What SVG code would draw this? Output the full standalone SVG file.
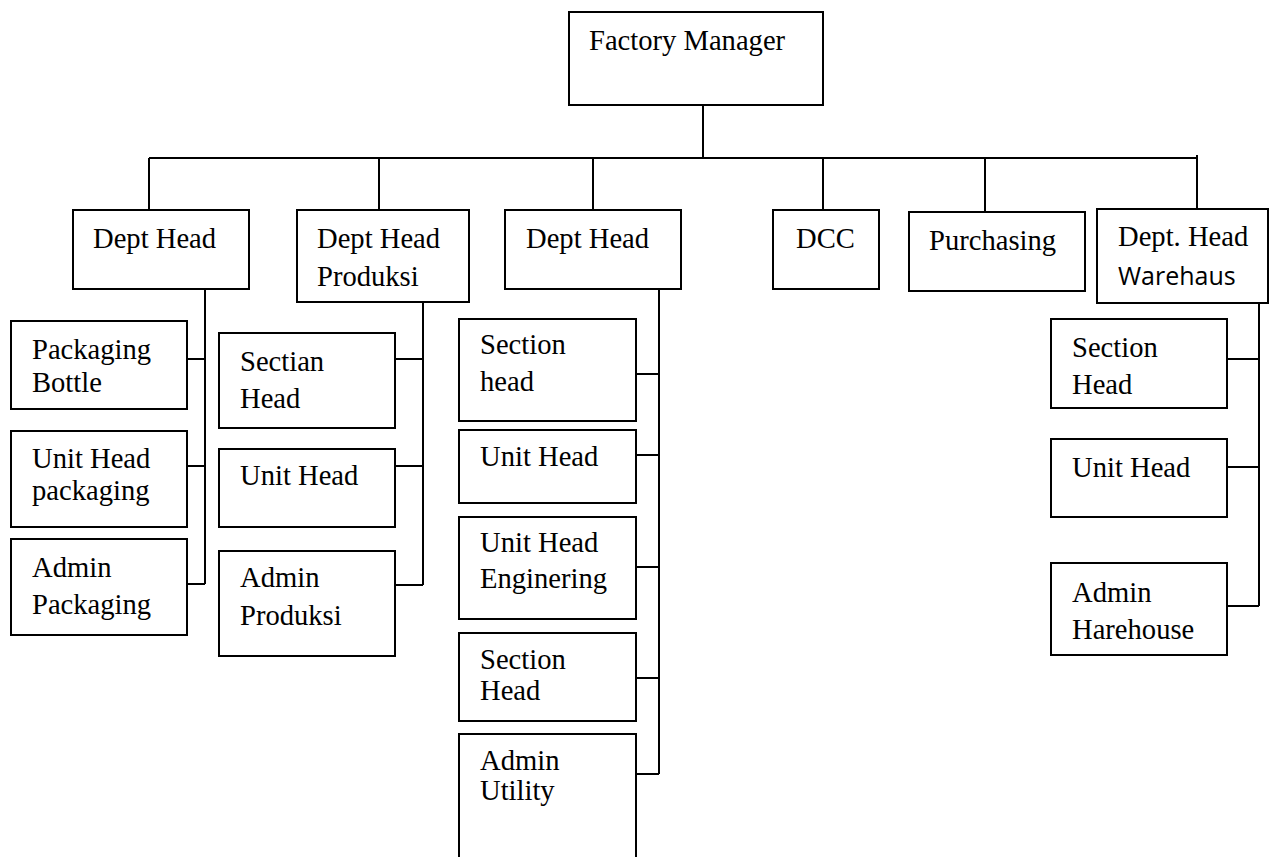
<svg xmlns="http://www.w3.org/2000/svg" width="1271" height="857" viewBox="0 0 1271 857">
<style>
rect{fill:#fff;stroke:#000;stroke-width:2}
text{font-family:"Liberation Serif","Times New Roman",serif;font-size:28.6px;fill:#000}
.sans{font-family:"Open Sans","Liberation Sans",sans-serif;font-size:25px}
#connectors path{fill:none;stroke:#000;stroke-width:2}
</style>
<rect x="0" y="0" width="1271" height="857" style="fill:#fff;stroke:none"/>
<g id="connectors">
<path d="M703 105V158M149 158H1197M1197 155V209M149 158V210M379 158V210M593 158V210M823 158V210M985 158V212"/>
<path d="M205 289V584M187 359H205M187 466H205M187 584H205"/>
<path d="M423 302V585M395 359H423M395 466H423M395 585H423"/>
<path d="M659 289V774M636 374H659M636 455H659M636 567H659M636 678H659M636 774H659"/>
<path d="M1259 303V606M1227 359H1259M1227 467H1259M1227 606H1259"/>
</g>
<g id="factory-manager"><rect x="569" y="12" width="254" height="93"/><text x="589" y="50">Factory Manager</text></g>
<g id="dept-head-1"><rect x="73" y="210" width="176" height="79"/><text x="93" y="248">Dept Head</text></g>
<g id="dept-head-produksi"><rect x="297" y="210" width="172" height="92"/><text x="317" y="248">Dept Head</text><text x="317" y="286">Produksi</text></g>
<g id="dept-head-3"><rect x="505" y="210" width="176" height="79"/><text x="526" y="248">Dept Head</text></g>
<g id="dcc"><rect x="773" y="210" width="106" height="79"/><text x="796" y="248">DCC</text></g>
<g id="purchasing"><rect x="909" y="212" width="176" height="79"/><text x="929" y="250">Purchasing</text></g>
<g id="dept-head-warehaus"><rect x="1097" y="209" width="171" height="94"/><text x="1118" y="246">Dept. Head</text><text class="sans" x="1118" y="285">Warehaus</text></g>
<g id="packaging-bottle"><rect x="11" y="321" width="176" height="88"/><text x="32" y="359">Packaging</text><text x="32" y="392">Bottle</text></g>
<g id="unit-head-packaging"><rect x="11" y="431" width="176" height="96"/><text x="32" y="468">Unit Head</text><text x="32" y="500">packaging</text></g>
<g id="admin-packaging"><rect x="11" y="539" width="176" height="96"/><text x="32" y="577">Admin</text><text x="32" y="614">Packaging</text></g>
<g id="sectian-head"><rect x="219" y="333" width="176" height="95"/><text x="240" y="371">Sectian</text><text x="240" y="408">Head</text></g>
<g id="unit-head-produksi"><rect x="219" y="449" width="176" height="78"/><text x="240" y="485">Unit Head</text></g>
<g id="admin-produksi"><rect x="219" y="551" width="176" height="105"/><text x="240" y="587">Admin</text><text x="240" y="625">Produksi</text></g>
<g id="section-head-3a"><rect x="459" y="319" width="177" height="102"/><text x="480" y="354">Section</text><text x="480" y="391">head</text></g>
<g id="unit-head-3"><rect x="459" y="430" width="177" height="73"/><text x="480" y="466">Unit Head</text></g>
<g id="unit-head-enginering"><rect x="459" y="517" width="177" height="102"/><text x="480" y="552">Unit Head</text><text x="480" y="588">Enginering</text></g>
<g id="section-head-3b"><rect x="459" y="633" width="177" height="88"/><text x="480" y="669">Section</text><text x="480" y="700">Head</text></g>
<g id="admin-utility"><rect x="459" y="734" width="177" height="130"/><text x="480" y="770">Admin</text><text x="480" y="800">Utility</text></g>
<g id="section-head-w"><rect x="1051" y="319" width="176" height="89"/><text x="1072" y="357">Section</text><text x="1072" y="394">Head</text></g>
<g id="unit-head-w"><rect x="1051" y="439" width="176" height="78"/><text x="1072" y="477">Unit Head</text></g>
<g id="admin-harehouse"><rect x="1051" y="563" width="176" height="92"/><text x="1072" y="602">Admin</text><text x="1072" y="639">Harehouse</text></g>
</svg>
